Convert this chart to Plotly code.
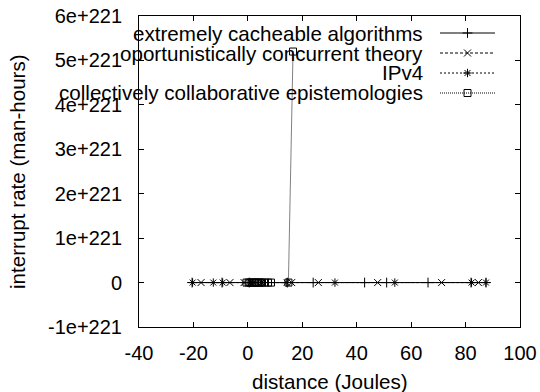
import plotly.graph_objects as go

# ---- data ----
series_names = ["extremely cacheable algorithms", "oportunistically concurrent theory",
                "IPv4", "collectively collaborative epistemologies"]
s1_x = [-20.5, -9.5, 0.5, 14.5, 24.0, 42.9, 51.0, 66.2, 82.0, 87.5]
s1_y = [0, 0, 0, 0, 0, 0, 0, 0, 0, 0]
s2_x = [-17.2, -6.6, -1.4, 2.0, 16.1, 25.9, 47.7, 71.2, 84.7]
s2_y = [0, 0, 0, 0, 0, 0, 0, 0, 0]
s3_x = [-20.3, -12.7, -9.25, 1.0, 5.0, 14.3, 32.0, 54.0, 82.2, 87.5]
s3_y = [0, 0, 0, 0, 0, 0, 0, 0, 0, 0]
s4_x = [-0.5, 0.3, 1.0, 1.6, 2.2, 2.8, 3.4, 4.0, 4.6, 5.2, 6.3, 7.4, 8.5, 14.9, 16.6]
s4_y = [0, 0, 0, 0, 0, 0, 0, 0, 0, 0, 0, 0, 0, 0, 5.2e221]

x_ticks = [-40, -20, 0, 20, 40, 60, 80, 100]
x_tick_labels = ["-40", "-20", "0", "20", "40", "60", "80", "100"]
y_ticks = [-1e221, 0, 1e221, 2e221, 3e221, 4e221, 5e221, 6e221]
y_tick_labels = ["-1e+221", "0", "1e+221", "2e+221", "3e+221", "4e+221", "5e+221", "6e+221"]
x_title = "distance (Joules)"
y_title = "interrupt rate (man-hours)"

# ---- styles ----
FONT = "Liberation Sans, Arial, sans-serif"
FS = 20
FS_TEXT = 20.6
W, H = 540, 392
ML, MR, MT, MB = 139, 20, 16, 65
PW, PH = W - ML - MR, H - MT - MB


def px_x(px):
    return (px - ML) / PW


def px_y(py):
    return (MT + PH - py) / PH


styles = [
    dict(dash="solid", symbol="cross-thin-open"),
    dict(dash="3px,2px", symbol="x-thin-open"),
    dict(dash="2px,2px", symbol="asterisk-open"),
    dict(dash="1px,1px", symbol="square-open"),
]
data = [(s1_x, s1_y), (s2_x, s2_y), (s3_x, s3_y), (s4_x, s4_y)]

fig = go.Figure()
for (xs, ys), st, name in zip(data, styles, series_names):
    fig.add_trace(go.Scatter(
        x=xs, y=ys, mode="lines+markers", name=name, showlegend=False,
        line=dict(color="black", width=1, dash=st["dash"]),
        marker=dict(symbol=st["symbol"], size=7, color="black",
                    line=dict(color="black", width=1)),
        cliponaxis=False,
    ))

# ---- manual gnuplot-style key (pixel overlay axes) ----
row_y = [33, 53, 73, 93]
text_right = 425
samp_x0, samp_x1 = 440, 495
for ry, st, name in zip(row_y, styles, series_names):
    fig.add_trace(go.Scatter(
        x=[samp_x0, samp_x1], y=[ry, ry], mode="lines", xaxis="x2", yaxis="y2",
        showlegend=False, hoverinfo="skip",
        line=dict(color="black", width=1, dash=st["dash"])))
    fig.add_trace(go.Scatter(
        x=[(samp_x0 + samp_x1) / 2], y=[ry], mode="markers", xaxis="x2", yaxis="y2",
        showlegend=False, hoverinfo="skip",
        marker=dict(symbol=st["symbol"], size=7, color="black",
                    line=dict(color="black", width=1))))
    fig.add_annotation(x=px_x(text_right), y=px_y(ry), xref="paper", yref="paper",
                       text=name, showarrow=False, xanchor="right", yanchor="middle",
                       font=dict(family=FONT, size=FS_TEXT, color="black"))

# axis titles
fig.add_annotation(x=0.5, y=px_y(381), xref="paper", yref="paper", text=x_title,
                   showarrow=False, xanchor="center", yanchor="middle",
                   font=dict(family=FONT, size=FS_TEXT, color="black"))
fig.add_annotation(x=px_x(17), y=px_y(171), xref="paper", yref="paper", text=y_title,
                   showarrow=False, xanchor="center", yanchor="middle", textangle=-90,
                   font=dict(family=FONT, size=FS_TEXT, color="black"))

axis_common = dict(showgrid=False, zeroline=False, showline=True, linecolor="black",
                   linewidth=1, mirror="ticks", ticks="inside", ticklen=5,
                   tickcolor="black", tickwidth=1, automargin=False,
                   tickfont=dict(family=FONT, size=FS, color="black"))

fig.update_layout(
    width=W, height=H,
    margin=dict(l=ML, r=MR, t=MT, b=MB, autoexpand=False),
    paper_bgcolor="white", plot_bgcolor="white",
    showlegend=False,
    xaxis=dict(range=[-40, 100], tickvals=x_ticks, ticktext=x_tick_labels,
               ticklabelstandoff=8, **axis_common),
    yaxis=dict(range=[-1e221, 6e221], tickvals=y_ticks, ticktext=y_tick_labels,
               ticklabelstandoff=12, **axis_common),
    xaxis2=dict(overlaying="x", range=[ML, ML + PW], visible=False, fixedrange=True,
                automargin=False),
    yaxis2=dict(overlaying="y", range=[MT + PH, MT], visible=False, fixedrange=True,
                automargin=False),
)

fig.write_html("out.html")
